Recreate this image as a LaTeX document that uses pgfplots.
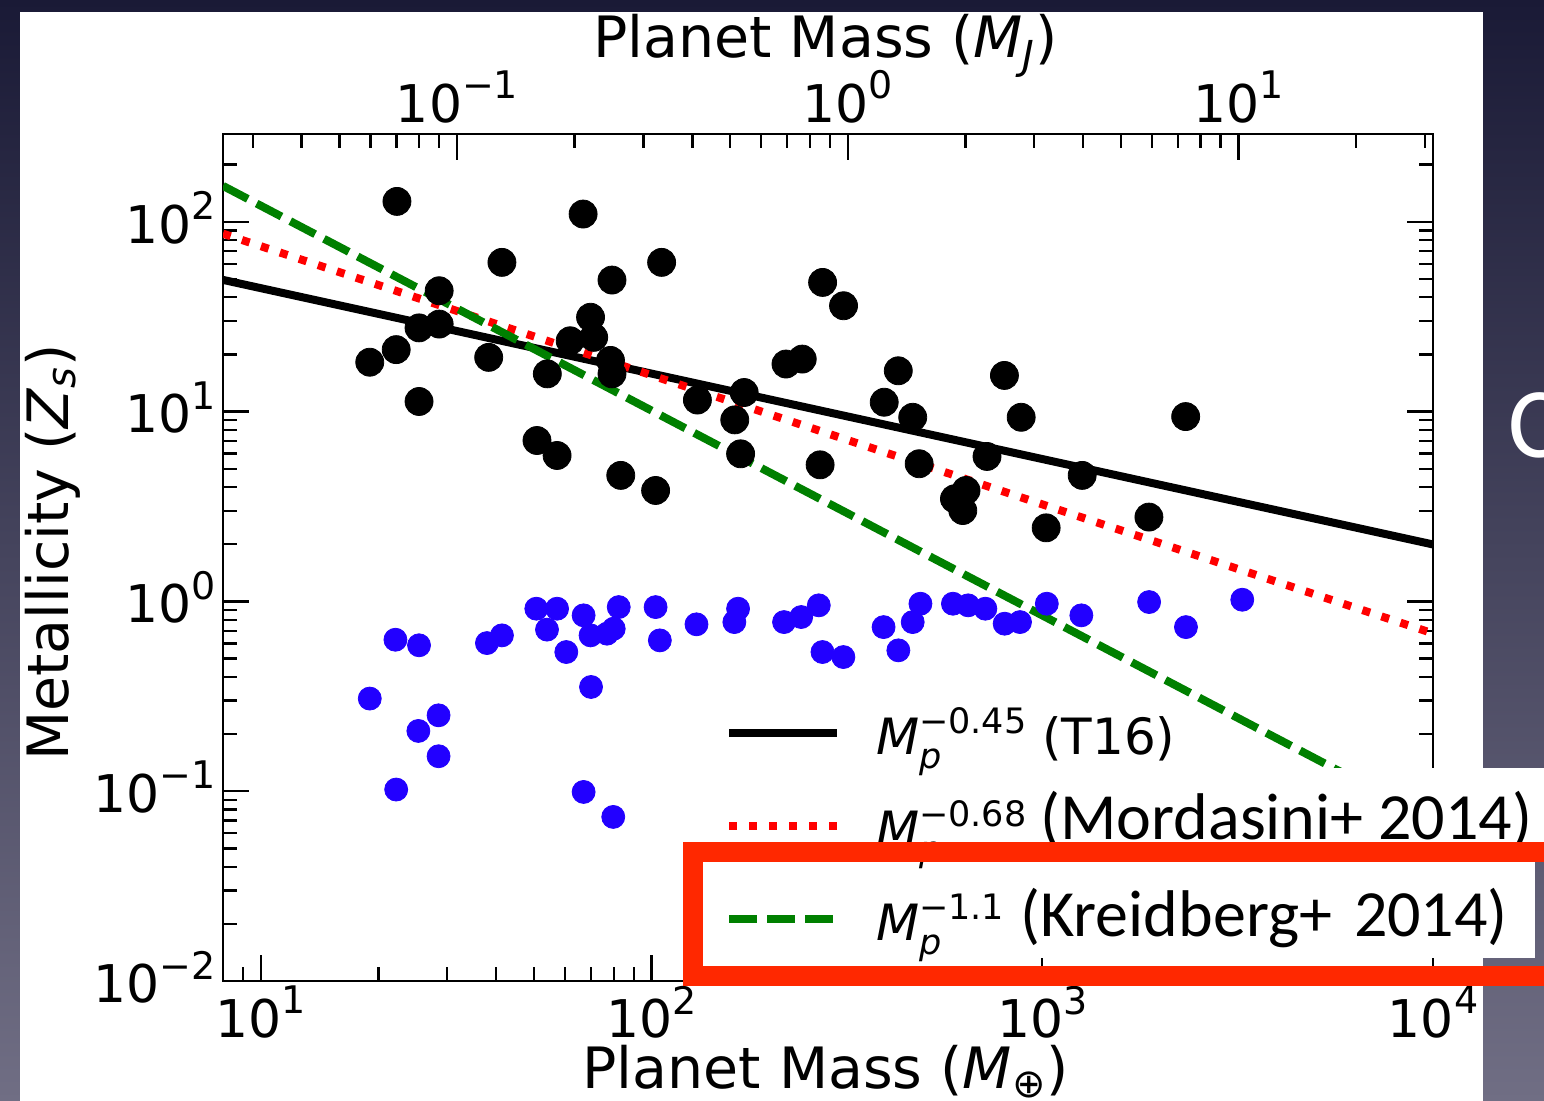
\documentclass[border=0pt]{standalone}
\usepackage{fontspec}
\setmainfont{DejaVu Sans}
\newfontfamily\gill{Carlito}
\usepackage{pgfplots}
\pgfplotsset{compat=1.18}
\definecolor{mplblue}{RGB}{34,0,255}
\definecolor{mplgreen}{RGB}{0,128,0}
\definecolor{bgtop}{RGB}{26,26,54}
\definecolor{bgbot}{RGB}{112,110,132}
\definecolor{boxred}{RGB}{255,40,0}
\newcommand\tk[1]{10\raisebox{0.45em}{\fontsize{19}{19}\selectfont #1}}
\newcommand\Mp[1]{\textit{M}\rlap{\raisebox{-0.28em}{\fontsize{17.5}{17.5}\selectfont\textit{p}}}\raisebox{0.42em}{\fontsize{17.5}{17.5}\selectfont #1}}
\begin{document}
\begin{tikzpicture}
\useasboundingbox (0,0) rectangle (772pt,550.5pt);
\shade[top color=bgtop, bottom color=bgbot] (0,0) rectangle (772pt,550.5pt);
\begin{scope}[x=0.5pt,y=-0.5pt,shift={(0pt,550.5pt)}]
\fill[white] (20,12) rectangle (1483,1101);
\begin{scope}
\clip (1483,0) rectangle (1544,1101);
\node[white, anchor=west, font=\gill\fontsize{50}{50}\selectfont, inner sep=0pt] at (1508,425) {C};
\end{scope}
\end{scope}
\begin{axis}[
  at={(111.5pt,60pt)}, anchor=south west, scale only axis,
  width=605pt, height=423.5pt,
  xmode=log, ymode=log,
  xmin=8, xmax=10000, ymin=0.01, ymax=290,
  xtick={10,100,1000,10000},
  xticklabels={\tk{1},\tk{2},\tk{3},\tk{4}},
  minor xtick={8,9,20,30,40,50,60,70,80,90,200,300,400,500,600,700,800,900,2000,3000,4000,5000,6000,7000,8000,9000},
  ytick={0.01,0.1,1,10,100},
  yticklabels={\tk{−2},\tk{−1},\tk{0},\tk{1},\tk{2}},
  minor ytick={0.02,0.03,0.04,0.05,0.06,0.07,0.08,0.09,0.2,0.3,0.4,0.5,0.6,0.7,0.8,0.9,2,3,4,5,6,7,8,9,20,30,40,50,60,70,80,90,200},
  xtick pos=left, xticklabel pos=left,
  ytick pos=both, yticklabel pos=left,
  tick align=inside,
  major tick length=13pt, minor tick length=7pt,
  tick style={black, line width=1.2pt},
  axis line style={line width=1.4pt},
  ticklabel style={font=\fontsize{26}{26}\selectfont},
  yticklabel style={yshift=2pt},
  xticklabel style={yshift=1pt},
  xlabel={Planet Mass (\textit{M}\textsubscript{⊕})},
  ylabel={Metallicity (\textit{Z}\textsubscript{\textit{s}})},
  label style={font=\fontsize{28.5}{28.5}\selectfont},
  xlabel style={at={(axis description cs:0.498,-0.107)}, anchor=center},
  ylabel style={at={(axis description cs:-0.141,0.506)}, anchor=center},
  legend cell align=left,
  legend style={at={(0.4149,0.3477)}, anchor=north west, draw=none, fill=none,
    inner sep=0pt, outer sep=0pt, row sep=0pt, column sep=17.5pt,
    font=\fontsize{25}{25}\selectfont,
    nodes={inner sep=0pt, minimum height=46.5pt}},
  legend image code/.code={\draw[#1] (0pt,0pt) -- (54pt,0pt);},
]
\addplot[only marks, mark=*, mark size=7pt, black, forget plot] coordinates {
(22.3,128) (66.8,109.8) (41.4,61.1) (106.1,61.1) (79.2,49.3) (28.6,43.3)
(28.6,28.9) (25.4,27.6) (22.2,21.2) (19.0,18.2) (38.3,19.3) (25.4,11.3)
(69.8,31.4) (61.9,23.6) (71.1,24.6) (78.5,18.6) (79.2,15.8) (54.1,15.8)
(50.9,7.04) (57.3,5.87) (83.4,4.61) (102.4,3.84) (274,47.9) (310,36.1)
(220.8,17.8) (243,18.9) (131,11.5) (172.6,12.6) (163.3,9.04) (169,5.99)
(270,5.24) (428,16.4) (394,11.2) (466,9.33) (484,5.31) (722,5.80)
(596,3.47) (638,3.84) (626,3.01) (800,15.5) (883,9.33) (2328,9.41)
(1265,4.61) (1023,2.44) (1875,2.78)
};
\addplot[only marks, mark=*, mark size=5.75pt, mplblue, forget plot] coordinates {
(22.1,0.628) (25.4,0.587) (19.0,0.3076) (28.5,0.251) (25.3,0.2077) (28.5,0.1528)
(22.2,0.102) (37.9,0.603) (41.4,0.662) (50.7,0.915) (57.3,0.915) (54.0,0.710)
(60.5,0.541) (67.0,0.844) (69.8,0.662) (76.9,0.676) (80.0,0.718) (82.4,0.933)
(70.0,0.354) (102.4,0.933) (105,0.623) (67.0,0.0991) (79.8,0.0732) (130.3,0.757)
(166.5,0.915) (162.9,0.778) (218.3,0.778) (241.5,0.827) (267.9,0.953) (273.8,0.541)
(309.7,0.509) (392.5,0.732) (428.2,0.552) (465.9,0.778) (487.7,0.972) (590.6,0.972)
(646,0.953) (715,0.915) (801,0.763) (877,0.778) (1027,0.972) (1259,0.844)
(1877,0.992) (2332,0.732) (3250,1.02)
};
\addplot[black, line width=4pt] coordinates {(8,49.4) (10000,1.995)};
\addlegendentry{\Mp{−0.45} (T16)}
\addplot[red, line width=4pt, dash pattern=on 4pt off 6pt] coordinates {(8,86.5) (10000,0.678)};
\addlegendentry{\Mp{−0.68}}
\addplot[mplgreen, line width=4pt, dash pattern=on 14pt off 5pt] coordinates {(8,154.5) (10000,0.0703)};
\addlegendentry{\Mp{−1.1}}
\end{axis}
\begin{axis}[
  at={(111.5pt,60pt)}, anchor=south west, scale only axis,
  width=605pt, height=423.5pt,
  xmode=log, xmin=0.025171, xmax=31.463, ymin=0, ymax=1,
  hide y axis,
  xtick pos=right, xticklabel pos=right,
  xtick={0.1,1,10}, xticklabels={\tk{−1},\tk{0},\tk{1}},
  minor xtick={0.03,0.04,0.05,0.06,0.07,0.08,0.09,0.2,0.3,0.4,0.5,0.6,0.7,0.8,0.9,2,3,4,5,6,7,8,9,20,30},
  tick align=inside,
  major tick length=13pt, minor tick length=7pt,
  tick style={black, line width=1.2pt},
  axis line style={line width=1.4pt},
  ticklabel style={font=\fontsize{26}{26}\selectfont},
  xticklabel style={yshift=2pt},
  xlabel={Planet Mass (\textit{M}\textsubscript{\textit{J}})},
  label style={font=\fontsize{28.5}{28.5}\selectfont},
  xlabel style={at={(axis description cs:0.498,1.104)}, anchor=center},
]
\end{axis}
\begin{scope}[x=0.5pt,y=-0.5pt,shift={(0pt,550.5pt)}]
\fill[white] (1032,768) rectangle (1544,842);
\fill[white] (1012,862) rectangle (1535,958);
\node[font=\gill\fontsize{33}{33}\selectfont, anchor=base west, inner sep=0pt] at (1040,840) {(Mordasini+ 2014)};
\node[font=\gill\fontsize{33}{33}\selectfont, anchor=base west, inner sep=0pt] at (1020,937) {(Kreidberg+\,\,2014)};
\draw[boxred, line width=10pt] (693,852) rectangle (1556,976);
\end{scope}
\end{tikzpicture}
\end{document}
